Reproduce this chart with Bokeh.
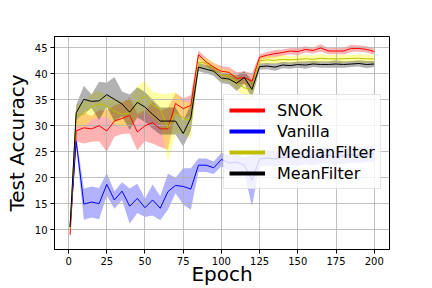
from bokeh.plotting import figure
from bokeh.models import Range1d, FixedTicker, Legend, LegendItem
from bokeh.embed import file_html
from bokeh.resources import INLINE

# ---------------- data ----------------
epochs = [1, 5, 10, 15, 20, 25, 30, 35, 40, 45, 50, 55, 60, 65, 70, 75, 80, 85, 90, 95,
          100, 105, 110, 115, 120, 125, 130, 135, 140, 145, 150, 155, 160, 165, 170, 175,
          180, 185, 190, 195, 200]

snok_mean = [9.0, 29.0, 29.6, 29.4, 30.0, 29.0, 30.9, 31.4, 32.0, 28.8, 30.0, 30.6, 29.4, 29.4,
             34.3, 33.3, 33.9, 43.7, 42.3, 41.3, 40.5, 40.3, 39.1, 39.3, 38.6, 43.2, 43.6, 43.9,
             44.1, 44.4, 44.3, 44.7, 44.5, 45.0, 44.4, 44.4, 44.4, 44.9, 44.9, 44.7, 44.3]
snok_std = [1.0, 2.0, 3.0, 2.5, 3.0, 4.0, 3.0, 3.0, 3.5, 3.5, 3.0, 4.0, 3.5, 4.0,
            2.0, 2.0, 2.0, 0.8, 0.8, 0.8, 1.0, 1.0, 1.2, 1.2, 1.5, 0.6, 0.6, 0.7,
            0.6, 0.6, 0.7, 0.6, 0.6, 0.7, 0.6, 0.6, 0.6, 0.7, 0.6, 0.6, 0.6]

vanilla_mean = [10.5, 27.0, 14.9, 15.3, 15.0, 18.7, 15.7, 17.4, 14.5, 16.0, 14.2, 15.7, 14.1, 17.3,
                18.5, 18.3, 17.8, 22.4, 22.4, 21.9, 23.5, 22.8, 23.0, 22.4, 19.5, 23.6, 23.8, 23.6,
                23.9, 24.0, 23.8, 24.1, 23.9, 24.2, 24.3, 24.0, 24.2, 24.4, 24.3, 24.5, 24.6]
vanilla_std = [1.0, 1.0, 3.0, 3.0, 3.0, 2.2, 1.7, 1.7, 3.4, 2.8, 1.8, 3.0, 2.3, 3.5,
               1.5, 3.5, 4.0, 1.3, 1.3, 1.2, 1.3, 1.5, 1.5, 1.5, 5.0, 1.5, 1.5, 1.5,
               1.5, 1.5, 1.5, 1.5, 1.5, 1.5, 1.5, 1.5, 1.5, 1.5, 1.5, 1.5, 1.5]

median_mean = [10.0, 32.0, 32.2, 33.6, 34.2, 33.8, 32.8, 32.2, 32.5, 34.5, 35.7, 34.0, 33.2, 29.6,
               32.5, 31.5, 31.0, 42.3, 42.0, 41.1, 39.8, 39.6, 38.3, 37.3, 37.0, 42.5, 42.7, 42.6,
               42.8, 42.7, 42.8, 42.9, 42.8, 43.0, 42.9, 42.9, 42.9, 43.0, 43.0, 42.9, 42.9]
median_std = [1.0, 2.0, 2.5, 2.5, 2.5, 2.0, 2.5, 2.5, 2.5, 3.0, 3.0, 2.5, 3.0, 6.5,
              4.0, 3.0, 3.5, 1.0, 1.0, 1.0, 1.2, 1.2, 1.3, 1.8, 2.0, 0.7, 0.8, 0.7,
              0.8, 0.7, 0.8, 0.7, 0.8, 0.8, 0.7, 0.8, 0.8, 0.7, 0.8, 0.8, 0.7]

mean_mean = [10.5, 32.5, 35.1, 34.7, 34.8, 36.0, 35.1, 34.2, 32.6, 34.5, 33.6, 32.2, 30.9, 30.9,
             30.9, 28.5, 31.5, 41.3, 40.9, 40.5, 39.2, 39.0, 38.2, 39.3, 37.0, 41.4, 41.5, 41.3,
             41.7, 41.6, 41.8, 41.7, 41.9, 41.8, 41.8, 41.9, 41.8, 41.9, 42.0, 41.8, 41.9]
mean_std = [1.0, 1.5, 2.6, 1.3, 3.7, 2.3, 4.3, 2.4, 3.4, 2.9, 2.9, 2.8, 2.6, 2.6,
            2.6, 2.5, 2.5, 0.8, 0.8, 0.9, 1.0, 1.0, 1.5, 1.2, 1.7, 0.6, 0.6, 0.7,
            0.6, 0.6, 0.6, 0.7, 0.6, 0.6, 0.6, 0.7, 0.6, 0.6, 0.6, 0.7, 0.6]

series_names = ["SNOK", "Vanilla", "MedianFilter", "MeanFilter"]
x_ticks = [0, 25, 50, 75, 100, 125, 150, 175, 200]
y_ticks = [10, 15, 20, 25, 30, 35, 40, 45]
x_label = "Epoch"
y_label = "Test Accuracy"

# ---------------- figure ----------------
FONT = "DejaVu Sans"
p = figure(width=432, height=288, output_backend="svg", toolbar_location=None,
           x_range=Range1d(-9.2, 210), y_range=Range1d(6.15, 47.2))
p.min_border = 0
p.min_border_left = 54
p.min_border_right = 43
p.min_border_top = 36
p.min_border_bottom = 36
p.background_fill_color = "white"
p.border_fill_color = "white"
p.outline_line_color = "black"
p.outline_line_width = 1

p.xaxis.ticker = FixedTicker(ticks=x_ticks)
p.yaxis.ticker = FixedTicker(ticks=y_ticks)
for ax in (p.xaxis, p.yaxis):
    ax.major_tick_out = 4
    ax.major_tick_in = 0
    ax.minor_tick_line_color = None
    ax.major_tick_line_color = "black"
    ax.axis_line_color = "black"
    ax.major_label_text_font = FONT
    ax.major_label_text_font_size = "10px"
    ax.major_label_text_color = "black"
    ax.major_label_standoff = 3
    ax.axis_label_text_font = FONT
    ax.axis_label_text_font_size = "20px"
    ax.axis_label_text_font_style = "normal"
    ax.axis_label_text_color = "black"
p.xaxis.axis_label = x_label
p.yaxis.axis_label = y_label
p.xaxis.axis_label_standoff = -6
p.yaxis.axis_label_standoff = 3

p.grid.grid_line_color = "#b0b0b0"
p.grid.grid_line_width = 0.8
p.grid.level = "underlay"

styles = [
    (snok_mean, snok_std, "red", "red", 0.3),
    (vanilla_mean, vanilla_std, "blue", "blue", 0.3),
    (median_mean, median_std, "#bfbf00", "yellow", 0.35),
    (mean_mean, mean_std, "black", "black", 0.3),
]

legend_items = []
for name, (m, s, lc, fc, fa) in zip(series_names, styles):
    lower = [a - b for a, b in zip(m, s)]
    upper = [a + b for a, b in zip(m, s)]
    band = p.varea(x=epochs, y1=lower, y2=upper, fill_color=fc, fill_alpha=fa)
    band.level = "image"
    p.line(x=epochs, y=m, line_color=lc, line_width=1)
    # legend handle (thick line, no visible data)
    handle = p.line(x=[epochs[0]], y=[float("nan")], line_color=lc, line_width=4)
    legend_items.append(LegendItem(label=name, renderers=[handle]))

legend = Legend(items=legend_items, location=(169, 60))
legend.label_text_font = FONT
legend.label_text_font_size = "16px"
legend.label_text_color = "black"
legend.glyph_width = 36
legend.glyph_height = 20
legend.label_height = 20
legend.spacing = 1
legend.padding = 5
legend.margin = 0
legend.label_standoff = 12
legend.border_line_color = "#cccccc"
legend.border_line_width = 1
legend.background_fill_color = "white"
legend.background_fill_alpha = 0.8
p.add_layout(legend, "center")

open("out.html", "w").write(file_html(p, INLINE))
